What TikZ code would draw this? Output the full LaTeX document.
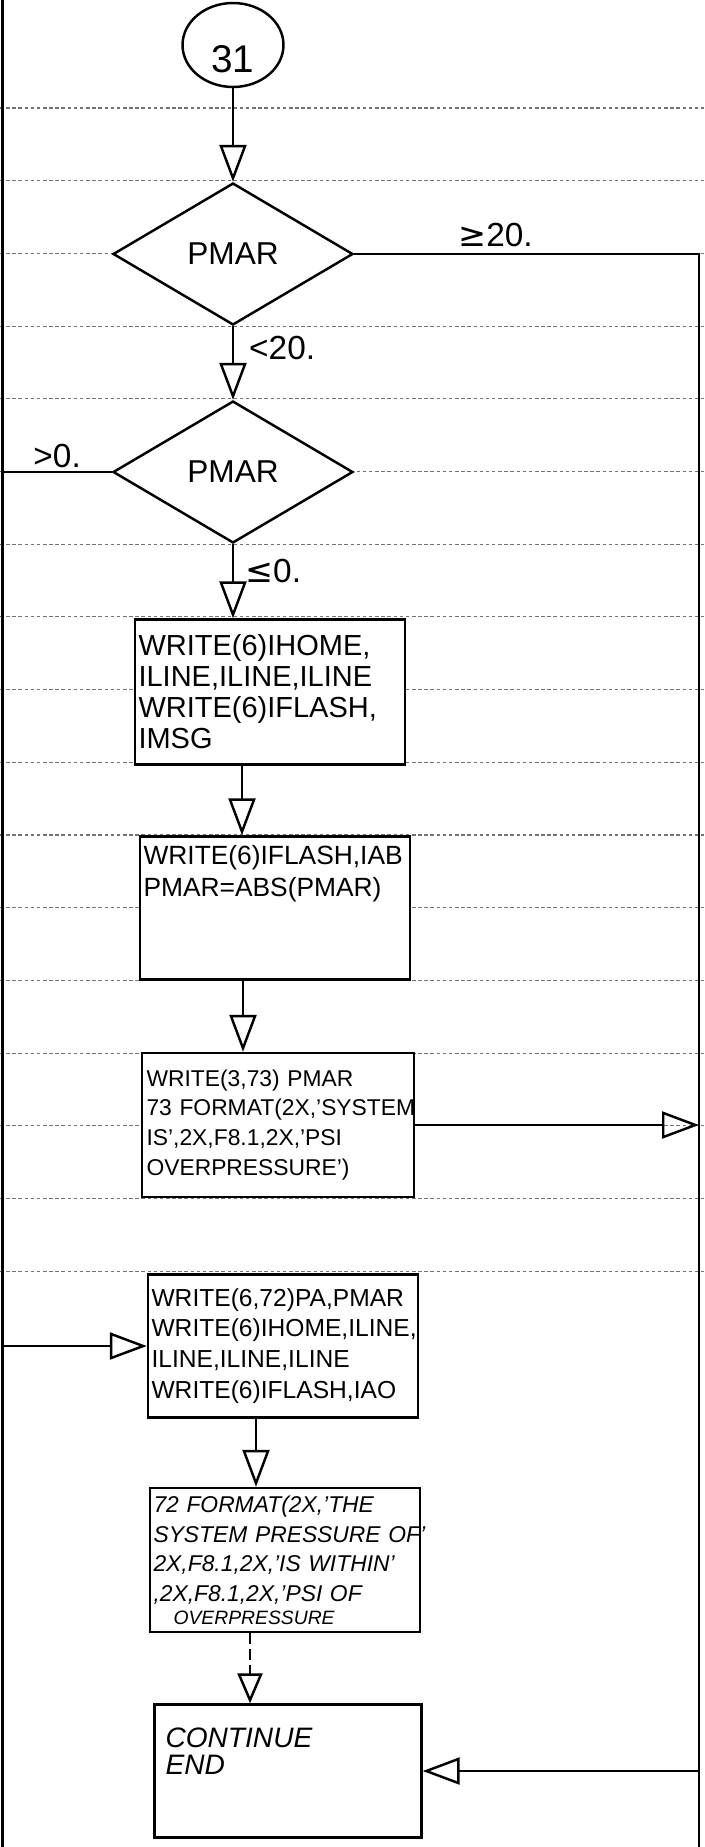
\documentclass[tikz,border=0pt]{standalone}
\usepackage{fontspec}
\setmainfont{Liberation Sans}
\newfontfamily\symfont{DejaVu Sans}
\usetikzlibrary{shapes.geometric,arrows.meta,positioning}
\hyphenpenalty=10000
\exhyphenpenalty=10000

\begin{document}
\begin{tikzpicture}[
  x=0.02cm, y=-0.02cm,
  line width=1.4pt,
  term/.style={draw,ellipse,fill=white,minimum width=2.02cm,minimum height=1.68cm,inner sep=0pt,
    font=\fontsize{22}{22}\selectfont,text height=1.1cm,text depth=0pt},
  test/.style={draw,diamond,fill=white,minimum width=4.8cm,minimum height=2.84cm,inner sep=0pt,
    font=\fontsize{18}{18}\selectfont},
  proc/.style={draw,fill=white,minimum width=5.4cm,minimum height=2.88cm,text width=5.26cm,
    inner xsep=0.07cm,inner ysep=0.08cm,align=left},
  lbl/.style={font=\fontsize{19}{19}\selectfont,inner sep=0pt},
  flow/.style={-{Triangle[open,length=0.74cm,width=0.54cm]}},
  ruled/.style={black!55,line width=0.6pt,dash pattern=on 2pt off 1.5pt},
]
\useasboundingbox (0,0) rectangle (704,1847);

% ruled lines of the form sheet
\foreach \k in {0,...,16}
  \draw[ruled] (0,{108+72.7*\k}) -- (704,{108+72.7*\k});

\coordinate (ltop) at (2.5,0);
\coordinate (lbot) at (2.5,1847);
\coordinate (rbot) at (699,1847);

\node[term] (c31) at (233,45) {31};
\node[test] (pmar1) at (233,254) {PMAR};
\node[test] (pmar2) at (233,472) {PMAR};
\node[proc,font=\fontsize{16.5}{17.6}\selectfont,minimum height=2.9cm] (wr1) at (270,692)
  {WRITE(6)IHOME,\\ILINE,ILINE,ILINE\\WRITE(6)IFLASH,\\IMSG};
\node[proc,font=\fontsize{15}{18}\selectfont,minimum height=2.86cm] (wr2) at (275,908)
  {WRITE(6)IFLASH,IAB\\PMAR=ABS(PMAR)\\[0.86cm]~};
\node[proc,font=\fontsize{13}{17}\selectfont,minimum width=5.44cm] (wr3) at (278,1125)
  {WRITE(3,73)~PMAR\\73~FORMAT(2X,'SYSTEM\\IS',2X,F8.1,2X,'PSI\\OVERPRESSURE')};
\node[proc,font=\fontsize{14}{17.6}\selectfont,minimum height=2.86cm] (wr4) at (283,1346)
  {WRITE(6,72)PA,PMAR\\WRITE(6)IHOME,ILINE,\\ILINE,ILINE,ILINE\\WRITE(6)IFLASH,IAO};
\node[proc,font=\itshape\fontsize{13}{17}\selectfont] (fmt) at (285,1560)
  {72~FORMAT(2X,'THE\\SYSTEM~PRESSURE~OF'\\2X,F8.1,2X,'IS~WITHIN'\\,2X,F8.1,2X,'PSI~OF\\[-0.15cm]\hspace*{0.4cm}{\fontsize{11}{11}\selectfont OVERPRESSURE}};
\node[proc,font=\itshape\fontsize{16}{15.3}\selectfont,minimum width=5.34cm,minimum height=2.66cm,
  text width=4.9cm,inner xsep=0.22cm] (stop) at (288,1771) {CONTINUE\\END\\[0.26cm]~};

% edges of the sheet
\draw (ltop) -- (lbot);
\draw (pmar1.east) -- node[lbl,above=0.12cm,pos=0.41]{{\symfont ≥}20.} (pmar1.east -| rbot) -- (rbot);

\draw[flow] (c31) -- (pmar1);
\draw[flow] (pmar1) -- node[lbl,right=0.3cm,pos=0.3]{<20.} (pmar2);
\draw[flow] (pmar2) -- node[lbl,right=0.22cm,pos=0.36]{{\symfont ≤}0.} (pmar2.south |- wr1.north);
\draw[flow] (pmar2.west) -- node[lbl,above=0.06cm,pos=0.5]{>0.} (pmar2.west -| ltop) |- (wr4.west);
\draw[flow] ([xshift=-0.56cm]wr1.south) -- ([xshift=-0.56cm]wr1.south |- wr2.north);
\draw[flow] ([xshift=-0.64cm]wr2.south) -- ([xshift=-0.64cm]wr2.south |- wr3.north);
\draw[flow] (wr3.east) -- (wr3.east -| rbot);
\draw[flow] ([xshift=-0.54cm]wr4.south) -- ([xshift=-0.54cm]wr4.south |- fmt.north);
\draw[-{Triangle[open,length=0.6cm,width=0.5cm]},dash pattern=on 6pt off 3pt]
  ([xshift=-0.7cm]fmt.south) -- ([xshift=-0.7cm]fmt.south |- stop.north);
\draw[flow] (stop.east -| rbot) -- (stop.east);
\end{tikzpicture}
\end{document}
